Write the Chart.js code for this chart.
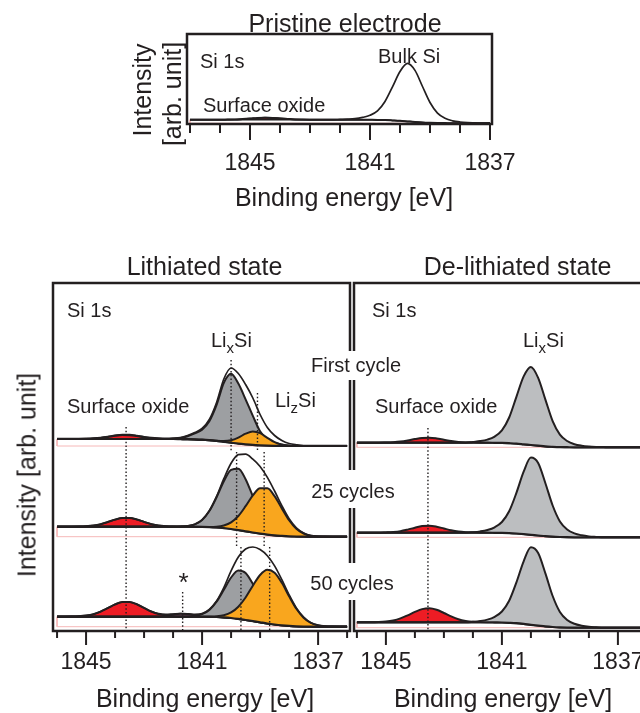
<!DOCTYPE html>
<html>
<head>
<meta charset="utf-8">
<script src="https://cdn.jsdelivr.net/npm/chart.js@4.4.0/dist/chart.umd.min.js"></script>
<style>
  html, body { margin: 0; padding: 0; background: #fff; overflow: hidden; }
  #fig { position: relative; width: 640px; height: 713px; overflow: hidden;
         font-family: 'Liberation Sans', Arial, Helvetica, sans-serif; color: #231f20; }
  #fig canvas { position: absolute; }
  .t { position: absolute; white-space: nowrap; line-height: 1; font-size: 20px; }
  .big { font-size: 25px; }
  .c { transform: translateX(-50%); }
  .v { transform: translate(-50%, -50%) rotate(-90deg); }
  .gap { position: absolute; background: #fff; }
  sub { font-size: 15px; vertical-align: -6px; line-height: 0; }
</style>
</head>
<body>
<div id="fig">
  <canvas id="pristineChart" width="420" height="215" style="left:150px;top:0"></canvas>
  <canvas id="lithChart" width="372" height="443" style="left:0;top:270px"></canvas>
  <canvas id="delithChart" width="380" height="443" style="left:330px;top:270px"></canvas>

  <div class="gap" style="left:346px;top:351px;width:12px;height:29px"></div>
  <div class="gap" style="left:346px;top:470px;width:12px;height:38px"></div>
  <div class="gap" style="left:346px;top:563px;width:12px;height:37px"></div>

  <!-- pristine panel -->
  <div class="t big c" style="left:345px;top:11px">Pristine electrode</div>
  <div class="t" style="left:200px;top:51px">Si 1s</div>
  <div class="t" style="left:378px;top:46px">Bulk Si</div>
  <div class="t" style="left:203px;top:95px">Surface oxide</div>
  <div class="t big c" style="left:344px;top:185px">Binding energy [eV]</div>
  <div class="t big v" style="left:142px;top:90px">Intensity</div>
  <div class="t big v" style="left:172px;top:94px">[arb. unit]</div>

  <!-- lithiated / de-lithiated panels -->
  <div class="t big c" style="left:204.5px;top:254px">Lithiated state</div>
  <div class="t big c" style="left:517.5px;top:254px">De-lithiated state</div>
  <div class="t" style="left:67px;top:300px">Si 1s</div>
  <div class="t" style="left:372px;top:300px">Si 1s</div>
  <div class="t" style="left:211px;top:330px">Li<sub>x</sub>Si</div>
  <div class="t" style="left:275px;top:390px">Li<sub>z</sub>Si</div>
  <div class="t" style="left:523px;top:330px">Li<sub>x</sub>Si</div>
  <div class="t" style="left:67px;top:396px">Surface oxide</div>
  <div class="t" style="left:375px;top:396px">Surface oxide</div>
  <div class="t c" style="left:183.5px;top:569px;font-size:26px">*</div>
  <div class="t c" style="left:356px;top:355px">First cycle</div>
  <div class="t c" style="left:353px;top:481px">25 cycles</div>
  <div class="t c" style="left:352px;top:573px">50 cycles</div>
  <div class="t big c" style="left:205px;top:686px">Binding energy [eV]</div>
  <div class="t big c" style="left:503px;top:686px">Binding energy [eV]</div>
  <div class="t big v" style="left:27px;top:475px">Intensity [arb. unit]</div>
</div>

<script>
// binding energy grid of the cycled electrodes (eV)
var energies = [
  1846, 1845.75, 1845.5, 1845.25, 1845, 1844.75, 1844.5, 1844.25,
  1844, 1843.75, 1843.5, 1843.25, 1843, 1842.75, 1842.5, 1842.25,
  1842, 1841.75, 1841.5, 1841.25, 1841, 1840.75, 1840.5, 1840.25,
  1840, 1839.75, 1839.5, 1839.25, 1839, 1838.75, 1838.5, 1838.25,
  1838, 1837.75, 1837.5, 1837.25, 1837, 1836.75, 1836.5, 1836.25,
  1836
];
// binding energy grid of the pristine electrode (eV)
var energiesP = [
  1847, 1846.75, 1846.5, 1846.25, 1846, 1845.75, 1845.5, 1845.25,
  1845, 1844.75, 1844.5, 1844.25, 1844, 1843.75, 1843.5, 1843.25,
  1843, 1842.75, 1842.5, 1842.25, 1842, 1841.75, 1841.5, 1841.25,
  1841, 1840.75, 1840.5, 1840.25, 1840, 1839.75, 1839.5, 1839.25,
  1839, 1838.75, 1838.5, 1838.25, 1838, 1837.75, 1837.5, 1837.25,
  1837
];
var labelTicks = [1845, 1841, 1837];

// pristine electrode
var bgP = [
  4.3, 4.3, 4.3, 4.3, 4.3, 4.3, 4.3, 4.3,
  4.3, 4.3, 4.3, 4.3, 4.3, 4.3, 4.3, 4.3,
  4.3, 4.3, 4.3, 4.3, 4.3, 4.3, 4.3, 4.3,
  4.2, 4.1, 3.95, 3.6, 3.2, 2.6, 2.0, 1.5,
  1.2, 1.0, 0.9, 0.8, 0.8, 0.8, 0.8, 0.8,
  0.8
];
var oxideP = [
  0, 0, 0, 0, 0, 0.1, 0.2, 0.6,
  1.1, 1.7, 2.0, 1.8, 1.3, 0.8, 0.3, 0.1,
  0, 0, 0, 0, 0, 0, 0, 0,
  0, 0, 0, 0, 0, 0, 0, 0,
  0, 0, 0, 0, 0, 0, 0, 0,
  0
];
var bulkP = [
  0, 0, 0, 0, 0, 0, 0, 0,
  0, 0, 0, 0, 0, 0, 0, 0,
  0, 0, 0, 0, 0.3, 0.6, 1.1, 2.3,
  4.5, 9.0, 18.6, 33.6, 49.3, 58, 51.6, 36.0,
  20.3, 9.9, 4.8, 2.4, 1.2, 0.6, 0.3, 0,
  0
];

// lithiated, first cycle
var bgL1 = [
  192, 192, 192, 192, 192, 192, 192, 192,
  192, 192, 192, 192, 192, 192, 192, 192,
  192, 191.9, 191.8, 191.6, 191.3, 190.8, 190.1, 189.2,
  188.3, 187.4, 186.7, 186.1, 185.7, 185.4, 185.2, 185.1,
  185, 185, 185, 185, 185, 185, 185, 185,
  185
];
var oxideL1 = [
  0, 0, 0, 0, 0.1, 0.4, 1.0, 2.0,
  3.2, 3.9, 3.8, 2.9, 1.7, 0.8, 0.3, 0.1,
  0, 0, 0, 0, 0, 0, 0, 0,
  0, 0, 0, 0, 0, 0, 0, 0,
  0, 0, 0, 0, 0, 0, 0, 0,
  0
];
var lixL1 = [
  0, 0, 0, 0, 0, 0, 0, 0,
  0, 0, 0, 0, 0, 0, 0, 0,
  0.3, 1, 3, 6, 10, 19, 36, 59,
  69, 60, 45, 29, 14, 6, 3, 1.5,
  0.5, 0.2, 0, 0, 0, 0, 0, 0,
  0
];
var lizL1 = [
  0, 0, 0, 0, 0, 0, 0, 0,
  0, 0, 0, 0, 0, 0, 0, 0,
  0, 0, 0, 0, 0, 0, 0.1, 0.7,
  2.4, 6.0, 10.6, 13.4, 12.1, 7.8, 3.6, 1.2,
  0.3, 0, 0, 0, 0, 0, 0, 0,
  0
];
var fitL1 = [
  192.5, 192.5, 192.5, 192.5, 192.6, 192.9, 193.5, 194.5,
  195.7, 196.4, 196.3, 195.4, 194.2, 193.3, 192.8, 192.6,
  192.8, 193.4, 195.5, 198.5, 202.5, 211.5, 228.5, 252,
  263, 257.5, 246.5, 233, 216.5, 203.5, 195.5, 190.5,
  187.5, 186.2, 185.5, 185.5, 185.5, 185.5, 185.5, 185.5,
  185.5
];

// lithiated, 25 cycles
var bgL25 = [
  104.3, 104.3, 104.3, 104.3, 104.3, 104.3, 104.3, 104.3,
  104.3, 104.3, 104.3, 104.3, 104.3, 104.3, 104.3, 104.3,
  104.3, 104.3, 104.3, 104.2, 104.1, 103.9, 103.5, 102.9,
  102.0, 100.9, 99.7, 98.5, 97.4, 96.4, 95.6, 95.1,
  94.7, 94.5, 94.4, 94.3, 94.3, 94.3, 94.3, 94.3,
  94.3
];
var oxideL25 = [
  0, 0, 0, 0.1, 0.4, 1.1, 2.5, 4.7,
  7.1, 8.7, 8.8, 7.2, 4.8, 2.6, 1.1, 0.4,
  0.1, 0, 0, 0, 0, 0, 0, 0,
  0, 0, 0, 0, 0, 0, 0, 0,
  0, 0, 0, 0, 0, 0, 0, 0,
  0
];
var lixL25 = [
  0, 0, 0, 0, 0, 0, 0, 0,
  0, 0, 0, 0, 0, 0, 0, 0,
  0, 0.2, 0.7, 2.5, 7.0, 16.1, 30.3, 46.8,
  59.2, 61.4, 52.1, 36.2, 20.7, 9.7, 3.7, 1.2,
  0.3, 0.1, 0, 0, 0, 0, 0, 0,
  0
];
var lizL25 = [
  0, 0, 0, 0, 0, 0, 0, 0,
  0, 0, 0, 0, 0, 0, 0, 0,
  0, 0, 0, 0, 0, 0.2, 0.8, 2.6,
  6.6, 14.1, 25.1, 37.1, 45.4, 46.3, 39.2, 27.5,
  16.1, 7.8, 3.1, 1.0, 0.3, 0.1, 0, 0,
  0
];
var fitL25 = [
  104.3, 104.3, 104.3, 104.4, 104.7, 105.4, 106.8, 109.0,
  111.4, 113.0, 113.1, 111.5, 109.1, 106.9, 105.4, 104.7,
  104.4, 104.5, 105.0, 106.7, 111.1, 120.2, 134.6, 152.3,
  167.8, 176.4, 176.9, 171.8, 164.5, 153.6, 140.0, 125.3,
  112.3, 103.2, 98.0, 95.3, 94.6, 94.4, 94.3, 94.3,
  94.3
];

// lithiated, 50 cycles
var bgL50 = [
  14.3, 14.3, 14.3, 14.3, 14.3, 14.3, 14.3, 14.3,
  14.3, 14.3, 14.3, 14.3, 14.3, 14.3, 14.3, 14.3,
  14.3, 14.3, 14.3, 14.3, 14.3, 14.2, 14.0, 13.6,
  13.0, 12.1, 11.0, 9.9, 8.7, 7.5, 6.5, 5.7,
  5.1, 4.7, 4.5, 4.4, 4.3, 4.3, 4.3, 4.3,
  4.3
];
var oxideL50 = [
  0, 0, 0.1, 0.4, 1.1, 2.5, 5.1, 8.6,
  12.3, 14.7, 14.7, 12.4, 8.8, 5.2, 2.6, 1.1,
  0.4, 0.1, 0, 0, 0, 0, 0, 0,
  0, 0, 0, 0, 0, 0, 0, 0,
  0, 0, 0, 0, 0, 0, 0, 0,
  0
];
var starL50 = [
  0, 0, 0, 0, 0, 0, 0, 0,
  0, 0, 0, 0, 0, 0, 0.4, 1.2,
  2.3, 3.0, 2.6, 1.6, 0.6, 0.2, 0, 0,
  0, 0, 0, 0, 0, 0, 0, 0,
  0, 0, 0, 0, 0, 0, 0, 0,
  0
];
var lixL50 = [
  0, 0, 0, 0, 0, 0, 0, 0,
  0, 0, 0, 0, 0, 0, 0, 0,
  0, 0, 0.2, 0.7, 2.5, 6.9, 15.3, 27.6,
  40.5, 48.4, 47.0, 37.1, 23.9, 12.5, 5.3, 1.8,
  0.5, 0.1, 0, 0, 0, 0, 0, 0,
  0
];
var lizL50 = [
  0, 0, 0, 0, 0, 0, 0, 0,
  0, 0, 0, 0, 0, 0, 0, 0,
  0, 0, 0, 0, 0, 0.2, 0.7, 2.2,
  5.6, 12.2, 22.5, 35.4, 47.3, 53.7, 51.8, 42.5,
  29.6, 17.5, 8.8, 3.8, 1.4, 0.4, 0.1, 0,
  0
];
var fitL50 = [
  14.3, 14.3, 14.4, 14.7, 15.4, 16.8, 19.4, 22.9,
  26.6, 29.0, 29.0, 26.7, 23.1, 19.5, 17.3, 16.6,
  17.0, 17.4, 17.1, 16.6, 17.4, 21.5, 30.0, 43.4,
  60.1, 74.0, 82.0, 84.0, 81.5, 75.3, 65.1, 51.3,
  36.2, 23.0, 13.8, 8.2, 5.7, 4.7, 4.4, 4.3,
  4.3
];

// de-lithiated, first cycle
var bgD1 = [
  188.3, 188.3, 188.3, 188.3, 188.3, 188.3, 188.3, 188.3,
  188.3, 188.3, 188.3, 188.3, 188.3, 188.3, 188.3, 188.3,
  188.3, 188.3, 188.3, 188.2, 188.1, 187.8, 187.4, 186.7,
  186.0, 185.3, 184.6, 184.2, 183.9, 183.8, 183.7, 183.7,
  183.7, 183.7, 183.7, 183.7, 183.7, 183.7, 183.7, 183.7,
  183.7
];
var oxideD1 = [
  0, 0, 0, 0, 0.2, 0.5, 1.1, 2.2,
  3.6, 4.7, 5.0, 4.3, 3.0, 1.7, 0.8, 0.3,
  0.1, 0, 0, 0, 0, 0, 0, 0,
  0, 0, 0, 0, 0, 0, 0, 0,
  0, 0, 0, 0, 0, 0, 0, 0,
  0
];
var lixD1 = [
  0, 0, 0, 0, 0, 0, 0, 0,
  0, 0, 0, 0, 0, 0, 0, 0,
  0.8, 1.6, 3.1, 6.2, 12.5, 25.7, 46.8, 67.9,
  78, 67.9, 46.8, 25.7, 12.5, 6.2, 3.1, 1.6,
  0.8, 0.4, 0.2, 0, 0, 0, 0, 0,
  0
];

// de-lithiated, 25 cycles
var bgD25 = [
  98.3, 98.3, 98.3, 98.3, 98.3, 98.3, 98.3, 98.3,
  98.3, 98.3, 98.3, 98.3, 98.3, 98.3, 98.3, 98.3,
  98.3, 98.3, 98.3, 98.2, 98.1, 97.9, 97.5, 96.9,
  96.2, 95.5, 94.8, 94.3, 94.0, 93.8, 93.7, 93.7,
  93.7, 93.7, 93.7, 93.7, 93.7, 93.7, 93.7, 93.7,
  93.7
];
var oxideD25 = [
  0, 0, 0, 0, 0.3, 0.7, 1.5, 3.1,
  5.0, 6.6, 7.0, 6.0, 4.2, 2.4, 1.1, 0.4,
  0.1, 0, 0, 0, 0, 0, 0, 0,
  0, 0, 0, 0, 0, 0, 0, 0,
  0, 0, 0, 0, 0, 0, 0, 0,
  0
];
var lixD25 = [
  0, 0, 0, 0, 0, 0, 0, 0,
  0, 0, 0, 0, 0, 0, 0, 0,
  0.5, 1.3, 2.7, 5.5, 10.9, 21.8, 40.6, 62.4,
  77.2, 72.5, 53.0, 31.2, 15.6, 7.8, 3.9, 2.0,
  0.9, 0.4, 0, 0, 0, 0, 0, 0,
  0
];

// de-lithiated, 50 cycles
var bgD50 = [
  8.7, 8.7, 8.7, 8.7, 8.7, 8.7, 8.7, 8.7,
  8.7, 8.7, 8.7, 8.7, 8.7, 8.7, 8.7, 8.7,
  8.7, 8.7, 8.7, 8.6, 8.5, 8.2, 7.8, 7.1,
  6.2, 5.4, 4.6, 4.0, 3.6, 3.4, 3.3, 3.3,
  3.3, 3.3, 3.3, 3.3, 3.3, 3.3, 3.3, 3.3,
  3.3
];
var oxideD50 = [
  0, 0, 0, 0.2, 0.7, 1.8, 3.9, 7.0,
  10.4, 13.2, 14.0, 12.5, 9.3, 5.9, 3.1, 1.4,
  0.5, 0.2, 0, 0, 0, 0, 0, 0,
  0, 0, 0, 0, 0, 0, 0, 0,
  0, 0, 0, 0, 0, 0, 0, 0,
  0
];
var lixD50 = [
  0, 0, 0, 0, 0, 0, 0, 0,
  0, 0, 0, 0, 0, 0, 0, 0,
  0.5, 1.3, 2.7, 5.6, 11.0, 22.0, 40.8, 62.6,
  77.5, 72.6, 53.0, 31.0, 15.5, 7.7, 3.9, 2.0,
  0.9, 0.4, 0, 0, 0, 0, 0, 0,
  0
];

// dotted peak-position guides: [energy, upper intensity, lower intensity]
var guidesL = [
  [1843.62, 204, 0],
  [1840.0, 271, 179], [1839.81, 179, 84], [1839.66, 84, 0],
  [1839.09, 238, 181], [1838.86, 179, 84], [1838.67, 84, 0],
  [1841.67, 39, 0]
];
var guidesD = [[1843.55, 203, 0]];

var INK = '#231f20';
var RED = '#ed1c24', PINK = '#f28bb8', ORANGE = '#f9a61e';
var GRAY_L = '#9d9fa2', GRAY_D = '#bcbec0', BOX = '#f6b8b8';
var FONT = "'Liberation Sans', Arial, Helvetica, sans-serif";

function pts(xs, ys) {
  return xs.map(function(x, i) { return {x: x, y: ys[i]}; }).reverse();
}
function plus(a, b) {
  return a.map(function(v, i) { return v + b[i]; });
}

// background line, the pale frame under it, the filled components and the fit
function addSpectrum(sets, xs, s) {
  var bgIdx = sets.length;
  var last = s.bg.length - 1;
  sets.push({data: pts(xs, s.bg), borderColor: INK, borderWidth: s.bgWidth || 2.2, order: 20});
  sets.push({
    data: [{x: xs[0], y: s.bg[0]}, {x: xs[0], y: s.bg[last]}, {x: xs[last], y: s.bg[last]}],
    borderColor: BOX, borderWidth: 1, tension: 0, cubicInterpolationMode: 'default', order: 60
  });
  s.parts.forEach(function(p, k) {
    sets.push({data: pts(xs, plus(s.bg, p[0])), borderColor: INK, borderWidth: 2,
               backgroundColor: p[1], fill: bgIdx, order: 50 - k});
  });
  if (s.fit) {
    sets.push({data: pts(xs, s.fit), borderColor: INK, borderWidth: 1.7, order: 10});
  }
}

function addGuides(sets, list) {
  list.forEach(function(g) {
    sets.push({data: [{x: g[0], y: g[1]}, {x: g[0], y: g[2]}], borderColor: INK, borderWidth: 1.4,
               borderDash: [1.5, 2.2], tension: 0, cubicInterpolationMode: 'default', order: 5});
  });
}

function framePlugin(sides, minorLen, majorLen) {
  return {
    id: 'frame',
    afterDraw: function(chart) {
      var a = chart.chartArea, c = chart.ctx, x = chart.scales.x;
      c.save();
      c.strokeStyle = INK;
      // a tick every 1 eV, longer where labelled
      c.lineWidth = 2;
      c.lineCap = 'butt';
      for (var e = Math.ceil(x.min); e <= Math.floor(x.max); e++) {
        var px = x.getPixelForValue(e);
        var len = labelTicks.indexOf(e) >= 0 ? majorLen : minorLen;
        c.beginPath();
        c.moveTo(px, a.bottom);
        c.lineTo(px, a.bottom + len);
        c.stroke();
      }
      c.lineWidth = 2.5;
      c.lineCap = 'square';
      c.beginPath();
      if (sides.indexOf('l') >= 0) { c.moveTo(a.left, a.bottom); c.lineTo(a.left, a.top); }
      if (sides.indexOf('t') >= 0) { c.moveTo(a.left, a.top); c.lineTo(a.right, a.top); }
      if (sides.indexOf('r') >= 0) { c.moveTo(a.right, a.top); c.lineTo(a.right, a.bottom); }
      if (sides.indexOf('b') >= 0) { c.moveTo(a.left, a.bottom); c.lineTo(a.right, a.bottom); }
      c.stroke();
      c.restore();
    }
  };
}

function makeChart(id, cfg) {
  var ctx = document.getElementById(id).getContext('2d');
  return new Chart(ctx, {
    type: 'line',
    data: {datasets: cfg.sets},
    options: {
      responsive: false,
      animation: false,
      devicePixelRatio: 1,
      layout: {padding: cfg.pad},
      plugins: {legend: {display: false}, tooltip: {enabled: false}},
      elements: {
        point: {radius: 0},
        line: {cubicInterpolationMode: 'monotone', fill: false}
      },
      scales: {
        x: {
          type: 'linear', reverse: true, min: cfg.min, max: cfg.max,
          afterFit: function(scale) { scale.height = cfg.axisH; },
          grid: {display: false, drawTicks: false},
          border: {display: false},
          ticks: {
            stepSize: 1, autoSkip: false, maxRotation: 0, includeBounds: false,
            padding: cfg.tickPad, color: INK, font: {family: FONT, size: 23},
            callback: function(v) { return labelTicks.indexOf(v) >= 0 ? String(v) : ''; }
          }
        },
        y: {display: false, min: 0, max: cfg.yMax}
      }
    },
    plugins: [framePlugin(cfg.sides, cfg.minorLen, cfg.majorLen)]
  });
}

// Pristine electrode
var setsP = [];
addSpectrum(setsP, energiesP, {
  bg: bgP, bgWidth: 1.5,
  parts: [[oxideP, RED]],
  fit: plus(plus(bgP, oxideP), bulkP)
});
var pristineChart = makeChart('pristineChart', {
  sets: setsP, pad: {left: 37, right: 78, top: 34, bottom: 0},
  min: 1836.933, max: 1847.1, yMax: 90, axisH: 91, tickPad: 26,
  sides: 'ltrb', minorLen: 9, majorLen: 16
});

// Lithiated state
var setsL = [];
addSpectrum(setsL, energies, {bg: bgL1, parts: [[oxideL1, RED], [lixL1, GRAY_L], [lizL1, ORANGE]], fit: fitL1});
addSpectrum(setsL, energies, {bg: bgL25, parts: [[oxideL25, RED], [lixL25, GRAY_L], [lizL25, ORANGE]], fit: fitL25});
addSpectrum(setsL, energies, {bg: bgL50, parts: [[starL50, PINK], [oxideL50, RED], [lixL50, GRAY_L], [lizL50, ORANGE]], fit: fitL50});
addGuides(setsL, guidesL);
var lithChart = makeChart('lithChart', {
  sets: setsL, pad: {left: 53, right: 22, top: 13, bottom: 0},
  min: 1835.9, max: 1846.14, yMax: 348, axisH: 82, tickPad: 17.5,
  sides: 'ltrb', minorLen: 7, majorLen: 14
});

// De-lithiated state
var setsD = [];
addSpectrum(setsD, energies, {bg: bgD1, parts: [[oxideD1, RED], [lixD1, GRAY_D]]});
addSpectrum(setsD, energies, {bg: bgD25, parts: [[oxideD25, RED], [lixD25, GRAY_D]]});
addSpectrum(setsD, energies, {bg: bgD50, parts: [[oxideD50, RED], [lixD50, GRAY_D]]});
addGuides(setsD, guidesD);
var delithChart = makeChart('delithChart', {
  sets: setsD, pad: {left: 24, right: 20, top: 13, bottom: 0},
  min: 1834.514, max: 1846.1, yMax: 348, axisH: 82, tickPad: 17.5,
  sides: 'ltb', minorLen: 7, majorLen: 14
});
</script>
</body>
</html>
